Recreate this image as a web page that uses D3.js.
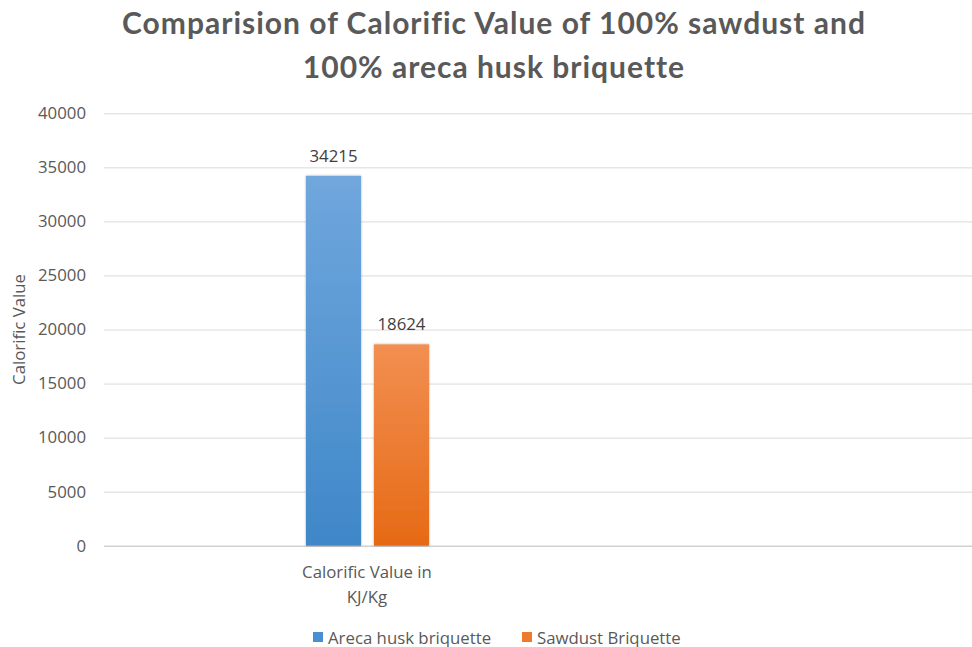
<!DOCTYPE html>
<html><head><meta charset="utf-8">
<script src="https://cdn.jsdelivr.net/npm/d3@7"></script>
<style>body{margin:0;background:#fff}svg{display:block}</style>
</head><body>
<script>
const titleLines = ["Comparision of Calorific Value of 100% sawdust and", "100% areca husk briquette"];
const categories = ["Calorific Value in KJ/Kg"];
const seriesNames = ["Areca husk briquette", "Sawdust Briquette"];
const arecaValues = [34215];
const sawdustValues = [18624];
const yTicks = [0, 5000, 10000, 15000, 20000, 25000, 30000, 35000, 40000];
const yTitle = "Calorific Value";

const W = 972, H = 647;
const font = "'Open Sans', sans-serif";
const grey = "#595959";
const fs = 16.8;
const svg = d3.select("body").append("svg").attr("width", W).attr("height", H);

const defs = svg.append("defs");
const grads = [["gBlue", "#70a7dd", "#3f87c8"], ["gOrange", "#f28f51", "#e66a15"]];
grads.forEach(([id, c1, c2]) => {
  const g = defs.append("linearGradient").attr("id", id).attr("x1", 0).attr("y1", 0).attr("x2", 0).attr("y2", 1);
  g.append("stop").attr("offset", "0%").attr("stop-color", c1);
  g.append("stop").attr("offset", "100%").attr("stop-color", c2);
});
const f = defs.append("filter").attr("id", "sh").attr("x", "-20%").attr("y", "-5%").attr("width", "140%").attr("height", "110%");
f.append("feDropShadow").attr("dx", 0).attr("dy", 0).attr("stdDeviation", 1.2).attr("flood-color", "#000").attr("flood-opacity", 0.35);

const plot = {left: 104, right: 972, top: 113.3, bottom: 545.7};
const y = d3.scaleLinear().domain([0, 40000]).range([plot.bottom, plot.top]);
const x0 = d3.scaleBand().domain(categories).range([plot.left, 631]).padding(0);
const groupW = 123;
const x1 = d3.scaleBand().domain(seriesNames)
  .range([x0.bandwidth() / 2 - groupW / 2, x0.bandwidth() / 2 + groupW / 2]).paddingInner(0.19);

// title
svg.append("g").selectAll("text").data(titleLines).join("text")
  .attr("x", 494).attr("y", (d, i) => 34 + i * 44)
  .attr("text-anchor", "middle").attr("font-family", "Lato, sans-serif").attr("font-weight", 700)
  .attr("font-size", 30).attr("letter-spacing", 1).attr("fill", grey).text(d => d);

// y axis gridlines
const yAxis = d3.axisLeft(y).tickValues(yTicks).tickSize(-(plot.right - plot.left)).tickPadding(18).tickFormat(d3.format("d"));
const ga = svg.append("g").attr("transform", `translate(${plot.left},0)`).call(yAxis);
ga.select(".domain").remove();
ga.selectAll(".tick line").attr("stroke", "#d9d9d9").attr("stroke-width", 1);
ga.selectAll(".tick").filter(d => d === 0).select("line").attr("stroke", "#d0d0d0").attr("stroke-width", 1.5);
ga.selectAll(".tick text").attr("font-family", font).attr("font-size", fs).attr("fill", grey);

// y title
svg.append("text").attr("transform", `translate(25,${(plot.top + plot.bottom) / 2}) rotate(-90)`)
  .attr("text-anchor", "middle").attr("font-family", font).attr("font-size", fs).attr("fill", grey).text(yTitle);

// bars
const series = [
  {name: seriesNames[0], values: arecaValues, fill: "url(#gBlue)"},
  {name: seriesNames[1], values: sawdustValues, fill: "url(#gOrange)"}
];
const gBars = svg.append("g");
categories.forEach((c, ci) => {
  series.forEach(s => {
    const v = s.values[ci];
    const bx = x0(c) + x1(s.name);
    gBars.append("rect").attr("x", bx).attr("y", y(v)).attr("width", x1.bandwidth())
      .attr("height", y(0) - y(v)).attr("fill", s.fill).attr("filter", "url(#sh)");
    gBars.append("text").attr("x", bx + x1.bandwidth() / 2).attr("y", y(v) - 14)
      .attr("text-anchor", "middle").attr("font-family", font).attr("font-size", fs).attr("fill", "#404040").text(v);
  });
  const words = ["Calorific Value in", "KJ/Kg"];
  svg.append("g").selectAll("text").data(words).join("text")
    .attr("x", x0(c) + x0.bandwidth() / 2 - 0.5).attr("y", (d, i) => 578 + i * 25)
    .attr("text-anchor", "middle").attr("font-family", font).attr("font-size", fs).attr("fill", grey).text(d => d);
});

// legend
const legendX = [313, 522];
const lg = svg.append("g");
series.forEach((s, i) => {
  lg.append("rect").attr("x", legendX[i]).attr("y", 632).attr("width", 10).attr("height", 10).attr("fill", i === 0 ? "#4a8fd2" : "#ee7b2c");
  lg.append("text").attr("x", legendX[i] + 15).attr("y", 643.5).attr("font-family", font).attr("font-size", fs).attr("fill", grey).text(s.name);
});
</script>
</body></html>
